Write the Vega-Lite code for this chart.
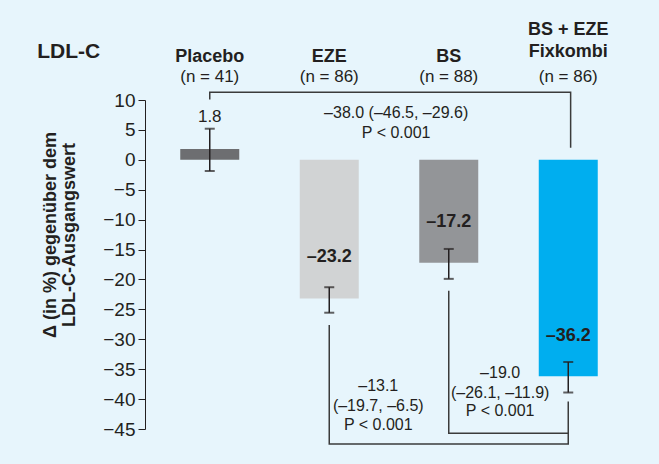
{
  "$schema": "https://vega.github.io/schema/vega-lite/v6.json",
  "width": 488,
  "height": 329,
  "autosize": {"type": "none"},
  "padding": {"left": 145, "top": 100, "right": 26, "bottom": 35},
  "background": "#e7f5fc",
  "config": {
    "view": {"stroke": null},
    "font": "Liberation Sans",
    "axisY": {"labelOverlap": false, "labelBound": false, "labelFlush": false, "grid": false, "title": null,
      "tickSize": 7, "tickColor": "#231f20", "domainColor": "#231f20", "labelFontSize": 19, "labelColor": "#231f20", "labelPadding": 3}
  },
  "datasets": {
    "bars": [
      {"cat": "Placebo", "pos": 0.5, "value": 1.8, "lo": -1.87, "hi": 5.2},
      {"cat": "EZE", "pos": 1.5, "value": -23.2, "lo": -25.56, "hi": -21.3},
      {"cat": "BS", "pos": 2.5, "value": -17.2, "lo": -19.9, "hi": -14.9},
      {"cat": "BS + EZE Fixkombi", "pos": 3.5, "value": -36.2, "lo": -38.9, "hi": -33.8}
    ],
    "brackets": [
      {"b": "A", "o": 1, "pos": 0.5, "y": 10.1},
      {"b": "A", "o": 2, "pos": 0.5, "y": 11.28},
      {"b": "A", "o": 3, "pos": 3.52, "y": 11.28},
      {"b": "A", "o": 4, "pos": 3.52, "y": 2.02},
      {"b": "B", "o": 1, "pos": 1.5, "y": -27.6},
      {"b": "B", "o": 2, "pos": 1.5, "y": -47.5},
      {"b": "B", "o": 3, "pos": 3.5, "y": -47.5},
      {"b": "B", "o": 4, "pos": 3.5, "y": -40.4},
      {"b": "C", "o": 1, "pos": 2.5, "y": -21.9},
      {"b": "C", "o": 2, "pos": 2.5, "y": -45.7},
      {"b": "C", "o": 3, "pos": 3.5, "y": -45.7}
    ],
    "headers": [
      {"pos": 0.5, "y": 17.2, "label": "Placebo"},
      {"pos": 1.5, "y": 17.2, "label": "EZE"},
      {"pos": 2.5, "y": 17.2, "label": "BS"},
      {"pos": 3.5, "y": 21.7, "label": "BS + EZE"},
      {"pos": 3.5, "y": 18.0, "label": "Fixkombi"}
    ],
    "ns": [
      {"pos": 0.5, "y": 13.8, "label": "(n = 41)"},
      {"pos": 1.5, "y": 13.8, "label": "(n = 86)"},
      {"pos": 2.5, "y": 13.8, "label": "(n = 88)"},
      {"pos": 3.5, "y": 13.8, "label": "(n = 86)"},
      {"pos": 0.5, "y": 7.2, "label": "1.8"}
    ],
    "boldvals": [
      {"pos": 1.5, "y": -16.2, "label": "–23.2"},
      {"pos": 2.5, "y": -10.35, "label": "–17.2"},
      {"pos": 3.5, "y": -29.45, "label": "–36.2"}
    ],
    "notes": [
      {"pos": 2.06, "y": 7.77, "label": "–38.0 (–46.5, –29.6)"},
      {"pos": 2.06, "y": 4.53, "label": "P < 0.001"},
      {"pos": 1.91, "y": -37.8, "label": "–13.1"},
      {"pos": 1.91, "y": -41.15, "label": "(–19.7, –6.5)"},
      {"pos": 1.91, "y": -44.4, "label": "P < 0.001"},
      {"pos": 2.93, "y": -35.6, "label": "–19.0"},
      {"pos": 2.93, "y": -38.9, "label": "(–26.1, –11.9)"},
      {"pos": 2.93, "y": -42.0, "label": "P < 0.001"}
    ],
    "title": [
      {"pos": -0.68, "y": 18.0, "label": "LDL-C"}
    ],
    "ytitle": [
      {"pos": -0.825, "y": -12.57, "label": "Δ (in %) gegenüber dem"},
      {"pos": -0.67, "y": -12.57, "label": "LDL-C-Ausgangswert"}
    ]
  },
  "layer": [
    {
      "data": {"name": "bars"},
      "mark": {"type": "bar", "width": 59},
      "encoding": {
        "x": {"field": "pos", "type": "quantitative", "scale": {"domain": [0, 4], "nice": false, "zero": false}, "axis": null},
        "y": {
          "field": "value", "type": "quantitative",
          "scale": {"domain": [-45, 10], "nice": false, "zero": false},
          "axis": {"values": [-45, -40, -35, -30, -25, -20, -15, -10, -5, 0, 5, 10], "tickCount": 20, "labelOverlap": false, "title": null}
        },
        "y2": {"datum": 0},
        "color": {
          "field": "cat", "type": "nominal",
          "scale": {"domain": ["Placebo", "EZE", "BS", "BS + EZE Fixkombi"], "range": ["#6d6e71", "#d1d3d4", "#939598", "#00aeef"]},
          "legend": null
        }
      }
    },
    {
      "mark": {"type": "rule", "color": "#231f20", "strokeWidth": 1.5},
      "encoding": {"y": {"datum": 0}}
    },
    {
      "data": {"name": "bars"},
      "mark": {"type": "errorbar", "color": "#231f20", "thickness": 1.5, "ticks": {"size": 10, "thickness": 2, "color": "#231f20"}},
      "encoding": {
        "x": {"field": "pos", "type": "quantitative"},
        "y": {"field": "lo", "type": "quantitative"},
        "y2": {"field": "hi"}
      }
    },
    {
      "data": {"name": "brackets"},
      "mark": {"type": "line", "color": "#3b3b3b", "strokeWidth": 1.5, "strokeJoin": "miter"},
      "encoding": {
        "x": {"field": "pos", "type": "quantitative"},
        "y": {"field": "y", "type": "quantitative"},
        "detail": {"field": "b"},
        "order": {"field": "o"}
      }
    },
    {
      "data": {"name": "headers"},
      "mark": {"type": "text", "fontSize": 18, "fontWeight": "bold", "color": "#231f20", "baseline": "middle"},
      "encoding": {"x": {"field": "pos", "type": "quantitative"}, "y": {"field": "y", "type": "quantitative"}, "text": {"field": "label"}}
    },
    {
      "data": {"name": "ns"},
      "mark": {"type": "text", "fontSize": 17, "color": "#231f20", "baseline": "middle"},
      "encoding": {"x": {"field": "pos", "type": "quantitative"}, "y": {"field": "y", "type": "quantitative"}, "text": {"field": "label"}}
    },
    {
      "data": {"name": "boldvals"},
      "mark": {"type": "text", "fontSize": 18, "fontWeight": "bold", "color": "#231f20", "baseline": "middle"},
      "encoding": {"x": {"field": "pos", "type": "quantitative"}, "y": {"field": "y", "type": "quantitative"}, "text": {"field": "label"}}
    },
    {
      "data": {"name": "notes"},
      "mark": {"type": "text", "fontSize": 16, "color": "#231f20", "baseline": "middle"},
      "encoding": {"x": {"field": "pos", "type": "quantitative"}, "y": {"field": "y", "type": "quantitative"}, "text": {"field": "label"}}
    },
    {
      "data": {"name": "title"},
      "mark": {"type": "text", "fontSize": 21, "fontWeight": "bold", "color": "#231f20", "baseline": "middle"},
      "encoding": {"x": {"field": "pos", "type": "quantitative"}, "y": {"field": "y", "type": "quantitative"}, "text": {"field": "label"}}
    },
    {
      "data": {"name": "ytitle"},
      "mark": {"type": "text", "fontSize": 18, "fontWeight": "bold", "color": "#231f20", "baseline": "middle", "align": "center", "angle": 270},
      "encoding": {"x": {"field": "pos", "type": "quantitative"}, "y": {"field": "y", "type": "quantitative"}, "text": {"field": "label"}}
    }
  ]
}
